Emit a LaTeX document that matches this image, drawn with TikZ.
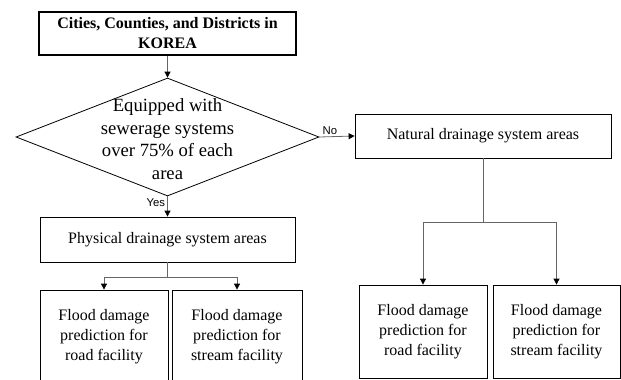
\documentclass[tikz,border=0pt]{standalone}
\usepackage{fontspec}
\setmainfont{Liberation Serif}
\setsansfont{Liberation Sans}
\usetikzlibrary{arrows.meta,positioning,shapes.geometric}
\newcommand{\px}{0.75pt}

\begin{document}
\begin{tikzpicture}[x=0.75pt,y=-0.75pt]
  %
  % Definitions
  %
  \tikzset{
    box/.style={draw, line width=0.6pt, inner sep=0pt, align=center,
      font=\fontsize{12}{15}\selectfont},
    link/.style={draw=black!60, line width=0.6pt},
    arr/.style={link, -{Triangle[length=4.5pt,width=4.5pt,color=black]}},
    tag/.style={font=\sffamily\fontsize{8.5}{10}\selectfont, inner sep=1.5pt},
  }
  \pgfmathsetmacro{\xmid}{167.5};%
  \pgfmathsetmacro{\xnat}{483};%
  \pgfmathsetmacro{\ylow}{336.5};%
  \pgfmathsetmacro{\ylowr}{331.5};%

  \useasboundingbox (0,0) rectangle (621,379);
  \clip (0,0) rectangle (621,379);

  %
  % Drawing
  %
  % Top and decision
  \node[box, line width=1pt, font=\bfseries\fontsize{12}{15}\selectfont,
    minimum width=257*\px, minimum height=43*\px] (korea) at (\xmid,33.5)
    {Cities, Counties, and Districts in\\KOREA};
  \node[draw, diamond, line width=0.6pt, inner sep=0pt,
    minimum width=303*\px, minimum height=118*\px] (sewer) at (\xmid,137) {};
  \node[align=center, font=\fontsize{14}{17}\selectfont] (sewertxt) at (\xmid,139)
    {Equipped with\\sewerage systems\\over 75\% of each\\area};

  % Areas
  \node[box, minimum width=256*\px, minimum height=44*\px] (natural) at (\xnat,136)
    {Natural drainage system areas};
  \node[box, minimum width=255*\px, minimum height=45*\px] (physical) at (\xmid,239.5)
    {Physical drainage system areas};

  % Predictions, left
  \node[box, minimum width=128*\px, minimum height=93*\px] (roadl) at (104,\ylow)
    {Flood damage\\prediction for\\road facility};
  \node[box, minimum width=130*\px, minimum height=93*\px] (streaml) at (237,\ylow)
    {Flood damage\\prediction for\\stream facility};

  % Predictions, right
  \node[box, minimum width=128*\px, minimum height=93*\px] (roadr) at (423,\ylowr)
    {Flood damage\\prediction for\\road facility};
  \node[box, minimum width=127*\px, minimum height=93*\px] (streamr) at (556.5,\ylowr)
    {Flood damage\\prediction for\\stream facility};

  % Links
  \draw[arr] (korea) -- (sewer.north);
  \draw[arr] (sewer.east) -- node[tag, above, pos=0.3] (no) {No} (natural.west);
  \draw[arr] (sewer.south) -- node[tag, left, pos=0.3] (yes) {Yes} (physical.north);

  \coordinate (lsplit) at (\xmid,277);
  \draw[link] (physical.south) -- (lsplit);
  \draw[arr] (lsplit) -| (roadl.north);
  \draw[arr] (lsplit) -| (streaml.north);

  \coordinate (rsplit) at (\xnat,222);
  \draw[link] (natural.south) -- (rsplit);
  \draw[arr] (rsplit) -| (roadr.north);
  \draw[arr] (rsplit) -| (streamr.north);

\end{tikzpicture}
\end{document}
